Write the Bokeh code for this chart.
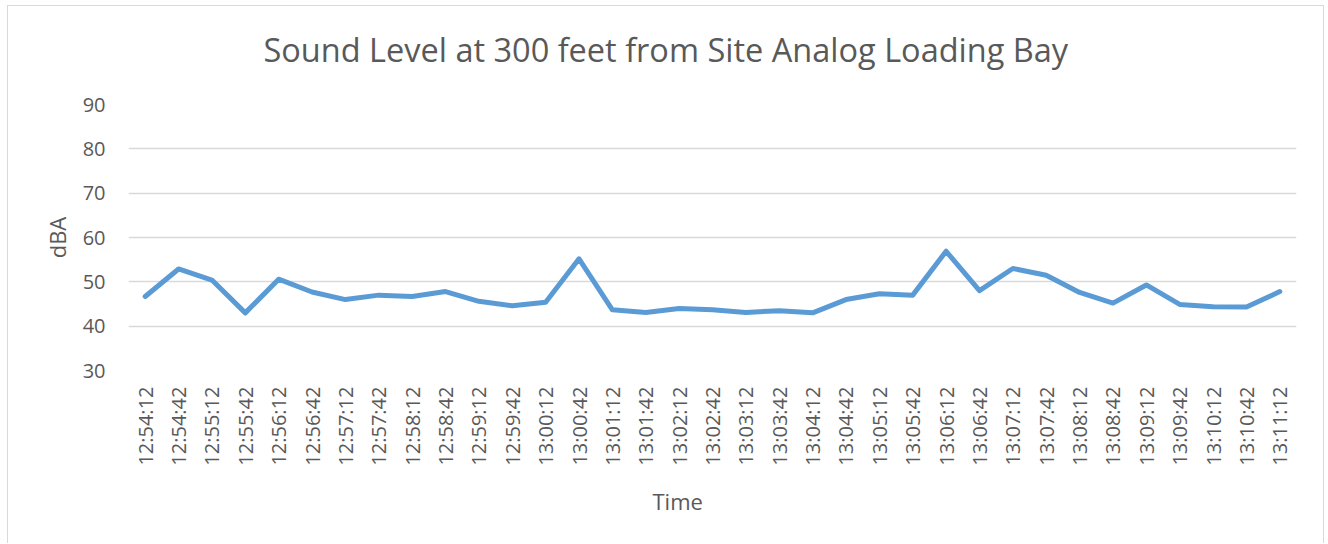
import math
from bokeh.plotting import figure
from bokeh.models import FactorRange, Range1d, FixedTicker, Title
from bokeh.embed import file_html
from bokeh.resources import INLINE

times = ["12:54:12", "12:54:42", "12:55:12", "12:55:42", "12:56:12", "12:56:42",
         "12:57:12", "12:57:42", "12:58:12", "12:58:42", "12:59:12", "12:59:42",
         "13:00:12", "13:00:42", "13:01:12", "13:01:42", "13:02:12", "13:02:42",
         "13:03:12", "13:03:42", "13:04:12", "13:04:42", "13:05:12", "13:05:42",
         "13:06:12", "13:06:42", "13:07:12", "13:07:42", "13:08:12", "13:08:42",
         "13:09:12", "13:09:42", "13:10:12", "13:10:42", "13:11:12"]
dba = [46.7, 52.9, 50.4, 43.0, 50.6, 47.7, 46.0, 47.0, 46.7, 47.8, 45.6, 44.6,
       45.4, 55.2, 43.7, 43.1, 44.0, 43.7, 43.1, 43.5, 43.0, 46.0, 47.3, 47.0,
       56.9, 48.0, 53.0, 51.5, 47.6, 45.2, 49.3, 44.9, 44.4, 44.3, 47.8]
y_ticks = [30, 40, 50, 60, 70, 80, 90]

TXT = "#595959"
GRID = "#d9d9d9"
FONT = "Open Sans"

p = figure(
    width=1317, height=538,
    x_range=FactorRange(*times, range_padding=0),
    y_range=Range1d(30, 90),
    output_backend="svg", toolbar_location=None,
    min_border_left=120, min_border_right=29, min_border_top=98, min_border_bottom=174,
    outline_line_color=None, background_fill_color="white", border_fill_color="white",
    styles={"margin-left": "7px", "margin-top": "5px",
            "border-left": "1px solid #d9d9d9", "border-top": "1px solid #d9d9d9",
            "border-right": "1px solid #d9d9d9"},
)

# spacer nearest the frame, then the main title above it
p.add_layout(Title(text=" ", text_font_size="1px", standoff=30), "above")
p.add_layout(Title(text="Sound Level at 300 feet from Site Analog Loading Bay",
                   align="left", offset=135, standoff=0,
                   text_font=FONT, text_font_size="32.5px", text_font_style="normal",
                   text_color=TXT), "above")

p.line(x=times, y=dba, line_color="#5b9bd5", line_width=5,
       line_join="round", line_cap="round")

p.xgrid.grid_line_color = None
p.ygrid.grid_line_color = GRID
p.ygrid.grid_line_width = 1.3
p.yaxis.ticker = FixedTicker(ticks=y_ticks)

for ax in (p.xaxis, p.yaxis):
    ax.axis_line_color = None
    ax.major_tick_line_color = None
    ax.minor_tick_line_color = None
    ax.major_tick_out = 0
    ax.major_tick_in = 0
    ax.major_label_text_font = FONT
    ax.major_label_text_color = TXT
    ax.major_label_text_font_size = "20px"
    ax.axis_label_text_font = FONT
    ax.axis_label_text_color = TXT
    ax.axis_label_text_font_size = "22px"
    ax.axis_label_text_font_style = "normal"

p.xaxis.major_label_orientation = math.pi / 2
p.xaxis.major_label_standoff = 16
p.yaxis.major_label_standoff = 23
p.yaxis.axis_label = "dBA"
p.yaxis.axis_label_standoff = 8

# x-axis caption below the tick labels
p.add_layout(Title(text="Time", align="left", offset=524, standoff=34, vertical_align="top",
                   text_font=FONT, text_font_size="22px", text_font_style="normal",
                   text_color=TXT), "below")

open("out.html", "w").write(file_html(p, INLINE))
